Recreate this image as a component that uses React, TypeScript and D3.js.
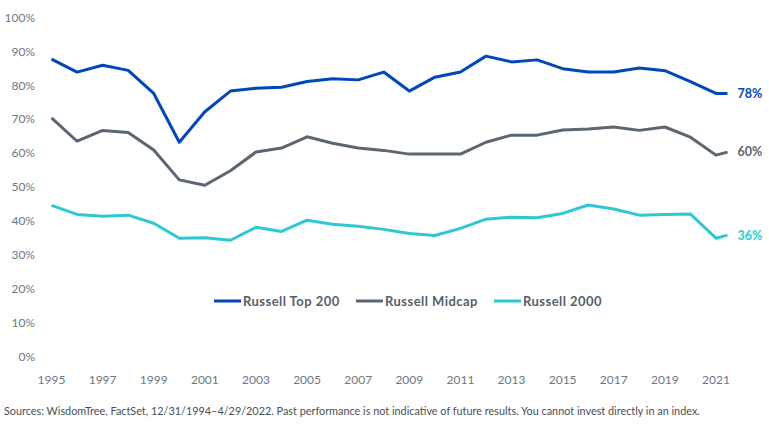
import React, { useEffect, useRef } from 'react';
import * as d3 from 'd3';

// x positions (years); the last point is the partial 2022 reading
const years = [1995, 1996, 1997, 1998, 1999, 2000, 2001, 2002, 2003, 2004, 2005, 2006, 2007, 2008, 2009, 2010, 2011, 2012, 2013, 2014, 2015, 2016, 2017, 2018, 2019, 2020, 2021, 2021.45];

const top200 = [87.7, 83.9, 85.9, 84.4, 77.6, 63.2, 72.2, 78.3, 79.1, 79.4, 81.1, 81.9, 81.6, 83.9, 78.3, 82.4, 83.9, 88.6, 86.9, 87.5, 84.9, 83.9, 83.9, 85.1, 84.3, 81.1, 77.6, 77.6];
const midcap = [70.4, 63.5, 66.7, 66.1, 60.9, 52.1, 50.5, 54.8, 60.3, 61.5, 64.8, 62.9, 61.5, 60.8, 59.7, 59.7, 59.7, 63.2, 65.3, 65.3, 66.8, 67.1, 67.7, 66.7, 67.7, 64.7, 59.4, 60.3];
const r2000 = [44.6, 41.9, 41.4, 41.7, 39.3, 34.9, 35.0, 34.3, 38.1, 36.9, 40.2, 39.0, 38.4, 37.5, 36.3, 35.7, 37.8, 40.5, 41.1, 40.9, 42.2, 44.7, 43.5, 41.7, 41.9, 42.0, 34.9, 35.8];

const seriesNames = ['Russell Top 200', 'Russell Midcap', 'Russell 2000'];
const endLabels = ['78%', '60%', '36%'];
const xTicks = [1995, 1997, 1999, 2001, 2003, 2005, 2007, 2009, 2011, 2013, 2015, 2017, 2019, 2021];
const yTicks = [0, 10, 20, 30, 40, 50, 60, 70, 80, 90, 100];
const colors = ['#0047bb', '#5b6670', '#2ec8d2'];

const sourceNote = 'Sources: WisdomTree, FactSet, 12/31/1994\u20134/29/2022. Past performance is not indicative of future results. You cannot invest directly in an index.';

const App = () => {
    const svgRef = useRef<SVGSVGElement>(null);

    useEffect(() => {
        const svg = d3.select(svgRef.current);
        svg.selectAll('*').remove();

        const font = 'Lato, "Open Sans", sans-serif';
        const x = d3.scaleLinear().domain([1995, 2021]).range([51.5, 716]);
        const y = d3.scaleLinear().domain([0, 100]).range([356.5, 17.5]);

        // y tick labels
        svg.append('g')
            .selectAll('text')
            .data(yTicks)
            .enter()
            .append('text')
            .attr('x', 35)
            .attr('y', d => y(d))
            .attr('dy', '0.35em')
            .attr('text-anchor', 'end')
            .style('font-family', font)
            .style('font-size', '12px')
            .style('fill', '#6e7780')
            .text(d => d + '%');

        // x tick labels
        svg.append('g')
            .selectAll('text')
            .data(xTicks)
            .enter()
            .append('text')
            .attr('x', d => x(d))
            .attr('y', 384)
            .attr('text-anchor', 'middle')
            .style('font-family', font)
            .style('font-size', '12px')
            .style('fill', '#6e7780')
            .text(d => d);

        const line = d3.line<number>()
            .x((d, i) => x(years[i]))
            .y(d => y(d));

        const allSeries = [top200, midcap, r2000];
        allSeries.forEach((s, k) => {
            svg.append('path')
                .datum(s)
                .attr('d', line)
                .attr('fill', 'none')
                .attr('stroke', colors[k])
                .attr('stroke-width', 3)
                .attr('stroke-linejoin', 'round');

            const last = s[s.length - 1];
            svg.append('text')
                .attr('x', x(years[years.length - 1]) + 10)
                .attr('y', y(last))
                .attr('dy', '0.35em')
                .style('font-family', font)
                .style('font-size', '12.5px')
                .style('font-weight', 'bold')
                .style('fill', colors[k])
                .text(endLabels[k]);
        });

        // legend
        const legendX = [214, 356, 494];
        const legend = svg.append('g');
        seriesNames.forEach((name, k) => {
            legend.append('line')
                .attr('x1', legendX[k])
                .attr('x2', legendX[k] + 27)
                .attr('y1', 301)
                .attr('y2', 301)
                .attr('stroke', colors[k])
                .attr('stroke-width', 3);
            legend.append('text')
                .attr('x', legendX[k] + 29)
                .attr('y', 301)
                .attr('dy', '0.35em')
                .style('font-family', font)
                .style('font-size', '13px')
                .style('font-weight', 'bold')
                .style('letter-spacing', '0.45px')
                .style('fill', '#555f69')
                .text(name);
        });

        svg.append('text')
            .attr('x', 4)
            .attr('y', 415)
            .style('font-family', font)
            .style('font-size', '10.85px')
            .style('fill', '#4a4f55')
            .text(sourceNote);
    }, []);

    return (
        <div style={{ position: 'absolute', left: 0, top: 0 }}>
            <svg ref={svgRef} width={769} height={434} style={{ display: 'block', background: '#fff' }}></svg>
        </div>
    );
};

export default App;
